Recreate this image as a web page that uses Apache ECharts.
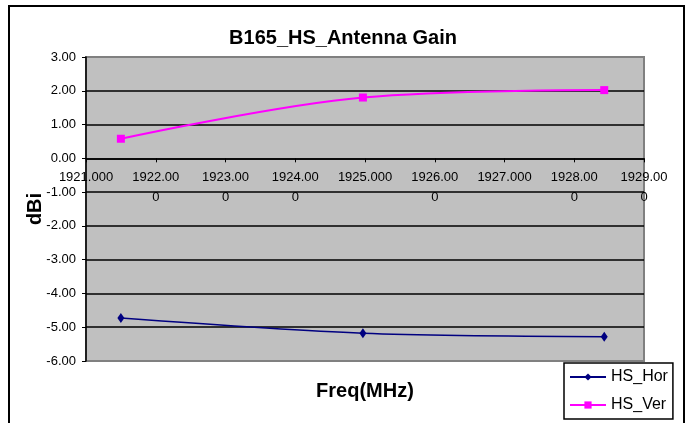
<!DOCTYPE html>
<html>
<head>
<meta charset="utf-8">
<title>B165_HS_Antenna Gain</title>
<script src="https://cdn.jsdelivr.net/npm/echarts@6/dist/echarts.min.js"></script>
<style>
  html, body { margin: 0; padding: 0; background: #fff; }
  #chart { width: 686px; height: 423px; }
</style>
</head>
<body>
<div id="chart"></div>
<script>
  // measured points (MHz / dBi)
  const freq = [1921.5, 1924.97, 1928.43]
  const hsHor = [-4.73, -5.18, -5.28]
  const hsVer = [0.58, 1.80, 2.02]
  // x tick labels as printed (wrapped the way the original wraps them)
  const xTickLabels = ['1921.000', '1922.00\n0', '1923.00\n0', '1924.00\n0', '1925.000',
    '1926.00\n0', '1927.000', '1928.00\n0', '1929.00\n0']

  const yMin = -6, yMax = 3
  const gridTop = 57, gridBottom = 62, chartH = 423
  // x axis crosses the y axis at 0, like the original
  const plotH = chartH - gridTop - gridBottom
  const zeroOffset = -plotH * (0 - yMin) / (yMax - yMin)

  const font = "'Liberation Sans', Arial, sans-serif"
  const chart = echarts.init(document.getElementById('chart'))

  chart.setOption({
    animation: false,
    backgroundColor: '#fff',
    title: {
      text: 'B165_HS_Antenna Gain',
      left: 'center',
      top: 28,
      padding: 0,
      textStyle: { fontFamily: font, fontSize: 20, fontWeight: 'bold', color: '#000' }
    },
    graphic: [{
      type: 'rect',
      shape: { x: 9, y: 6, width: 675, height: 430 },
      style: { fill: 'none', stroke: '#000', lineWidth: 2 },
      z: 100
    }],
    legend: {
      orient: 'vertical',
      left: 564,
      top: 363,
      padding: [6, 5, 6, 5],
      itemGap: 12,
      itemWidth: 36,
      itemHeight: 9,
      backgroundColor: '#fff',
      borderColor: '#000',
      borderWidth: 1.5,
      textStyle: { fontFamily: font, fontSize: 16, color: '#000', width: 62, overflow: 'truncate', ellipsis: '' },
      data: ['HS_Hor', 'HS_Ver']
    },
    grid: {
      show: true,
      left: 86,
      right: 42,
      top: gridTop,
      bottom: gridBottom,
      outerBoundsMode: 'none',
      containLabel: false,
      backgroundColor: '#C0C0C0',
      borderColor: '#808080',
      borderWidth: 2
    },
    xAxis: {
      type: 'value',
      position: 'bottom',
      offset: zeroOffset,
      min: 1921,
      max: 1929,
      interval: 1,
      name: 'Freq(MHz)',
      nameLocation: 'middle',
      nameGap: 223,
      nameMoveOverlap: false,
      nameTextStyle: { fontFamily: font, fontSize: 20, fontWeight: 'bold', color: '#000' },
      axisLine: { onZero: false, lineStyle: { color: '#000', width: 1.5 } },
      axisTick: { show: true, length: 4, lineStyle: { color: '#000' } },
      axisLabel: {
        margin: 9,
        fontFamily: font,
        fontSize: 13,
        lineHeight: 20,
        color: '#000',
        formatter: v => xTickLabels[Math.round(v - 1921)]
      },
      splitLine: { show: false }
    },
    yAxis: {
      type: 'value',
      min: yMin,
      max: yMax,
      interval: 1,
      name: 'dBi',
      nameLocation: 'middle',
      nameRotate: 90,
      nameGap: 41,
      nameMoveOverlap: false,
      nameTextStyle: { fontFamily: font, fontSize: 20, fontWeight: 'bold', color: '#000' },
      axisLine: { show: true, onZero: false, lineStyle: { color: '#000', width: 1.5 } },
      axisTick: { show: true, length: 4, lineStyle: { color: '#000' } },
      axisLabel: {
        margin: 10,
        fontFamily: font,
        fontSize: 13,
        color: '#000',
        formatter: v => v.toFixed(2)
      },
      splitLine: {
        show: true,
        showMinLine: false,
        showMaxLine: false,
        lineStyle: { color: '#000', width: 1.5 }
      }
    },
    series: [
      {
        name: 'HS_Hor',
        type: 'line',
        smooth: 0.3,
        data: freq.map((f, i) => [f, hsHor[i]]),
        symbol: 'diamond',
        symbolSize: [7, 10],
        itemStyle: { color: '#000080' },
        lineStyle: { color: '#000080', width: 1.5 }
      },
      {
        name: 'HS_Ver',
        type: 'line',
        smooth: 0.35,
        data: freq.map((f, i) => [f, hsVer[i]]),
        symbol: 'rect',
        symbolSize: 8,
        itemStyle: { color: '#FF00FF' },
        lineStyle: { color: '#FF00FF', width: 2 }
      }
    ]
  })
</script>
</body>
</html>
